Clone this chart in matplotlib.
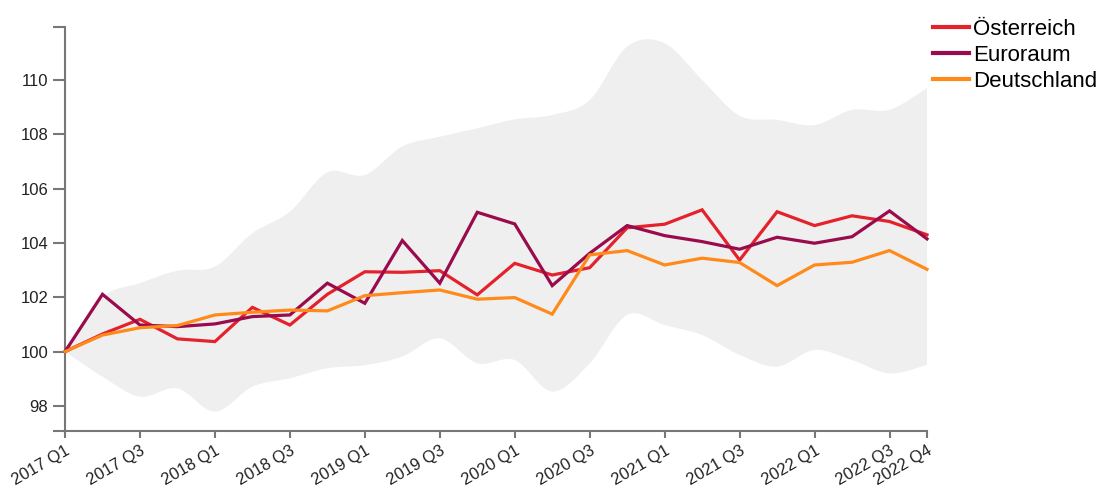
import numpy as np
import matplotlib
matplotlib.use("Agg")
import matplotlib.pyplot as plt
from matplotlib.path import Path
from matplotlib.patches import PathPatch

plt.rcParams['font.family'] = ['Liberation Sans', 'DejaVu Sans']

quarters = [f"{y} Q{q}" for y in range(2017, 2023) for q in range(1, 5)]
tick_labels_shown = ["2017 Q1", "2017 Q3", "2018 Q1", "2018 Q3", "2019 Q1", "2019 Q3",
                     "2020 Q1", "2020 Q3", "2021 Q1", "2021 Q3", "2022 Q1", "2022 Q3", "2022 Q4"]

oesterreich = [100.0, 100.65, 101.19, 100.47, 100.37, 101.63, 100.98, 102.11, 102.94,
               102.92, 102.98, 102.09, 103.25, 102.82, 103.09, 104.56, 104.69, 105.22,
               103.37, 105.15, 104.64, 105.0, 104.79, 104.30]
euroraum = [100.0, 102.11, 100.98, 100.92, 101.02, 101.29, 101.35, 102.52, 101.78,
            104.09, 102.52, 105.13, 104.70, 102.43, 103.62, 104.64, 104.27, 104.05,
            103.77, 104.21, 103.99, 104.23, 105.18, 104.15]
deutschland = [100.0, 100.61, 100.88, 100.96, 101.35, 101.45, 101.53, 101.50, 102.06,
               102.17, 102.27, 101.93, 101.99, 101.38, 103.56, 103.72, 103.19, 103.44,
               103.28, 102.43, 103.19, 103.29, 103.72, 103.03]

band_upper = [100.0, 102.0, 102.52, 102.98, 103.13, 104.36, 105.15, 106.6, 106.5,
              107.55, 107.91, 108.22, 108.55, 108.71, 109.26, 111.23, 111.35, 110.0,
              108.68, 108.53, 108.34, 108.9, 108.9, 109.7]
band_lower = [100.0, 99.08, 98.34, 98.65, 97.79, 98.71, 99.02, 99.39, 99.5,
              99.82, 100.49, 99.57, 99.69, 98.53, 99.57, 101.35, 100.98, 100.61,
              99.88, 99.45, 100.06, 99.69, 99.2, 99.51]

series = [("Österreich", oesterreich, "#e4222b"),
          ("Euroraum", euroraum, "#990b4c"),
          ("Deutschland", deutschland, "#ff8a1a")]

W, H = 1103, 491
fig = plt.figure(figsize=(W / 100, H / 100), dpi=100)
ax = fig.add_axes([65 / W, (H - 430.7) / H, 862 / W, 404 / H])

x = np.arange(len(quarters))


def smooth_segments(xs, ys):
    """Catmull-Rom through the points, expressed as cubic Bezier path pieces."""
    pts = np.column_stack([xs, ys]).astype(float)
    n = len(pts)
    verts, codes = [], []
    for i in range(n - 1):
        p0 = pts[max(i - 1, 0)]
        p1 = pts[i]
        p2 = pts[i + 1]
        p3 = pts[min(i + 2, n - 1)]
        c1 = p1 + (p2 - p0) / 6.0
        c2 = p2 - (p3 - p1) / 6.0
        verts += [tuple(c1), tuple(c2), tuple(p2)]
        codes += [Path.CURVE4] * 3
    return pts, verts, codes


pu, vu, cu = smooth_segments(x, band_upper)
pl, vl, cl = smooth_segments(x[::-1], band_lower[::-1])
verts = [tuple(pu[0])] + vu + [tuple(pl[0])] + vl + [tuple(pu[0])]
codes = [Path.MOVETO] + cu + [Path.LINETO] + cl + [Path.CLOSEPOLY]
ax.add_patch(PathPatch(Path(verts, codes), facecolor="#efefef", edgecolor="none", zorder=1))

for name, vals, col in series:
    ax.plot(x, vals, color=col, lw=2.3, label=name, zorder=3, clip_on=False,
            solid_joinstyle="miter")

ylo, yhi = 97.09, 111.96
ax.set_xlim(0, len(quarters) - 1)
ax.set_ylim(ylo, yhi)

xt = [quarters.index(q) for q in tick_labels_shown]
ax.set_xticks(xt)
ax.set_xticklabels(tick_labels_shown, rotation=30, ha="right", rotation_mode="anchor",
                   fontsize=12, color="#222222")
ax.set_yticks([98, 100, 102, 104, 106, 108, 110])
ax.set_yticklabels(["98", "100", "102", "104", "106", "108", "110"], fontsize=12, color="#222222")
ax.set_yticks([ylo, yhi], minor=True)

for s in ["top", "right"]:
    ax.spines[s].set_visible(False)
for s in ["left", "bottom"]:
    ax.spines[s].set_color("#777777")
    ax.spines[s].set_linewidth(1.5)
ax.tick_params(axis="y", which="both", length=9, width=1.5, color="#777777", pad=3)
ax.tick_params(axis="x", length=5, width=1.5, color="#777777", pad=4)

leg = fig.legend(loc="upper left", bbox_to_anchor=(933 / W, 1 - 19 / H), frameon=False,
                 fontsize=16, handlelength=1.6, handletextpad=0.2, labelspacing=0.23,
                 borderaxespad=0, borderpad=0)
for line in leg.get_lines():
    line.set_linewidth(3)

fig.savefig("out.png", dpi=100)
